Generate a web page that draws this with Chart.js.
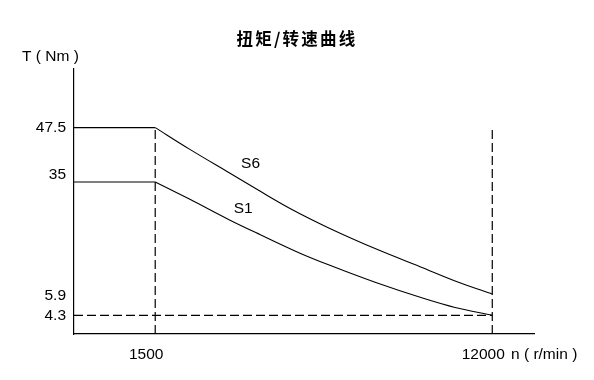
<!DOCTYPE html>
<html><head><meta charset="utf-8">
<script src="https://cdn.jsdelivr.net/npm/chart.js@4.4.1/dist/chart.umd.min.js"></script>
<style>html,body{margin:0;padding:0;background:#fff;} canvas{display:block;}</style>
</head><body>
<canvas id="c" width="594" height="380"></canvas>
<script>
const chartTitle = '扭矩/转速曲线';
const yAxisTitle = 'T ( Nm )';
const xAxisTitle = 'n ( r/min )';
const seriesNames = ['S6', 'S1'];

const xMin = -1030, xMax = 13300;
const yMin = 0, yMax = 61;

const xTickValues = [1500, 12000];
const xTickLabels = ['1500', '12000'];
const yTickValues = [4.3, 8.8, 36.7, 47.5];
const yTickLabels = ['4.3', '5.9', '35', '47.5'];

const baseSpeed = 1500;
const maxSpeed = 12000;
const ratedS6 = 47.5;
const ratedS1 = 35;
const minTorque = 4.3;

const s6Speed  = [1500, 2580, 3830, 4760, 5700, 6940, 8500, 9750, 10990, 12000];
const s6Torque = [47.5, 42.5, 37.0, 32.9, 28.9, 24.3, 19.2, 15.5, 11.8, 9.2];
const s1Speed  = [1500, 2580, 3830, 4760, 6010, 6940, 8350, 9900, 10840, 12000];
const s1Torque = [35, 31.0, 26.2, 22.9, 18.6, 15.8, 11.9, 8.1, 6.1, 4.3];

const pts = (xs, ys) => xs.map((x, i) => ({x, y: ys[i]}));
const LATIN = '"Liberation Sans", Arial, sans-serif';

const solid = (data, curve) => ({
  data, borderColor: '#000', borderWidth: 1.1, pointRadius: 0,
  fill: false, cubicInterpolationMode: curve ? 'monotone' : 'default', tension: 0
});
const dashed = (data) => ({
  data, borderColor: '#000', borderWidth: 1.2, pointRadius: 0,
  fill: false, borderDash: [9, 4], tension: 0
});

const textPlugin = {
  id: 'texts',
  afterDraw(chart) {
    const ctx = chart.ctx;
    const xs = chart.scales.x, ys = chart.scales.y;
    ctx.save();
    ctx.fillStyle = '#000';
    ctx.font = 'bold 16.5px "Noto Sans CJK SC", sans-serif';
    ctx.textAlign = 'center';
    ctx.textBaseline = 'middle';
    try { ctx.letterSpacing = '2.2px'; } catch (e) {}
    ctx.fillText(chartTitle, 297, 39);
    try { ctx.letterSpacing = '0px'; } catch (e) {}
    ctx.font = '15.5px ' + LATIN;
    ctx.textAlign = 'left';
    ctx.fillText(yAxisTitle, 22, 57);
    ctx.fillText(xAxisTitle, 511, 355);
    ctx.textAlign = 'center';
    ctx.fillText(seriesNames[0], xs.getPixelForValue(4470), ys.getPixelForValue(39.3));
    ctx.fillText(seriesNames[1], xs.getPixelForValue(4240), ys.getPixelForValue(28.8));
    ctx.restore();
  }
};

new Chart(document.getElementById('c'), {
  type: 'line',
  data: {
    datasets: [
      solid([{x: xMin, y: ratedS6}, {x: baseSpeed, y: ratedS6}], false),
      solid([{x: xMin, y: ratedS1}, {x: baseSpeed, y: ratedS1}], false),
      solid(pts(s6Speed, s6Torque), true),
      solid(pts(s1Speed, s1Torque), true),
      dashed([{x: baseSpeed, y: 0}, {x: baseSpeed, y: ratedS6}]),
      dashed([{x: maxSpeed, y: 0}, {x: maxSpeed, y: ratedS6}]),
      dashed([{x: xMin, y: minTorque}, {x: maxSpeed, y: minTorque}])
    ]
  },
  options: {
    responsive: false,
    animation: false,
    events: [],
    layout: {padding: {left: 0, right: 60, top: 69, bottom: 0}},
    plugins: {legend: {display: false}, tooltip: {enabled: false}, title: {display: false}},
    scales: {
      x: {
        type: 'linear', min: xMin, max: xMax,
        grid: {display: false, drawTicks: false},
        border: {display: true, color: '#000', width: 1.2},
        afterFit: s => { s.height = 46; },
        afterBuildTicks: s => { s.ticks = xTickValues.map(v => ({value: v})); },
        ticks: {
          autoSkip: false, maxRotation: 0, padding: 11, labelOffset: -9,
          color: '#000', font: {family: LATIN, size: 15.5},
          callback: (v) => xTickLabels[xTickValues.indexOf(v)]
        }
      },
      y: {
        type: 'linear', min: yMin, max: yMax,
        grid: {display: false, drawTicks: false},
        border: {display: true, color: '#000', width: 1.2},
        afterFit: s => { s.width = 74; },
        afterBuildTicks: s => { s.ticks = yTickValues.map(v => ({value: v})); },
        ticks: {
          autoSkip: false, padding: 8,
          color: '#000', font: {family: LATIN, size: 15.5},
          callback: (v) => yTickLabels[yTickValues.indexOf(v)]
        }
      }
    }
  },
  plugins: [textPlugin]
});
</script>
</body></html>
